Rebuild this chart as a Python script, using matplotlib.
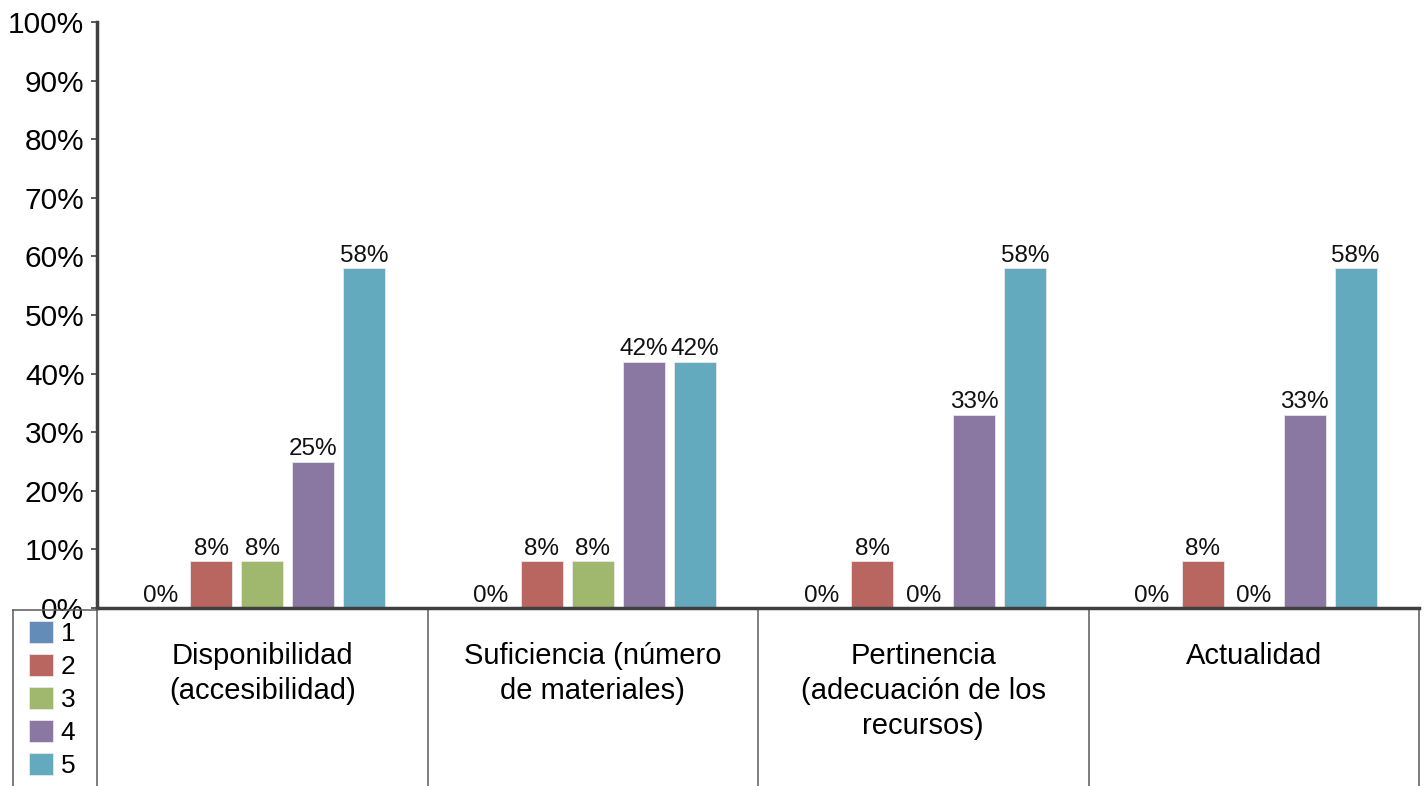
import matplotlib
matplotlib.use("Agg")
import matplotlib.pyplot as plt
from matplotlib.lines import Line2D
from matplotlib.ticker import PercentFormatter
import numpy as np

plt.rcParams['font.family'] = ['Liberation Sans', 'DejaVu Sans']

categories = ["Disponibilidad\n(accesibilidad)",
              "Suficiencia (número\nde materiales)",
              "Pertinencia\n(adecuación de los\nrecursos)",
              "Actualidad"]
series_names = ["1", "2", "3", "4", "5"]
values = {
    "1": [0, 0, 0, 0],
    "2": [8, 8, 8, 8],
    "3": [8, 8, 0, 0],
    "4": [25, 42, 33, 33],
    "5": [58, 42, 58, 58],
}
colors = ["#648CB9", "#B96661", "#A0B76E", "#8A78A3", "#64AABE"]
yticks = list(range(0, 101, 10))

W, H = 1426, 786
fig = plt.figure(figsize=(W / 100, H / 100), dpi=100)
ax_left, ax_right, ax_bottom, ax_top = 97, 1419, 608, 22
ax = fig.add_axes([ax_left / W, (H - ax_bottom) / H,
                   (ax_right - ax_left) / W, (ax_bottom - ax_top) / H])

x = np.arange(len(categories))
step = 0.154
width = 0.127
handles = []
for j, name in enumerate(series_names):
    vals = values[name]
    bars = ax.bar(x + (j - 2) * step, vals, width, color=colors[j],
                  edgecolor="#E8E8E8", linewidth=0.6, label=name, zorder=2)
    handles.append(bars)
    for xi, v in zip(x + (j - 2) * step, vals):
        ax.annotate(f"{v}%", (xi, v), xytext=(0, 1), textcoords="offset points",
                    ha="center", va="bottom", fontsize=17.5, color="#111111")

ax.set_xlim(-0.5, len(categories) - 0.5)
ax.set_ylim(0, 100)
ax.set_yticks(yticks)
ax.yaxis.set_major_formatter(PercentFormatter(decimals=0))
ax.tick_params(axis="y", labelsize=21.5, length=4, width=1.2, color="#404040",
               pad=5, labelcolor="#000000")
ax.set_xticks([])
for s in ["top", "right"]:
    ax.spines[s].set_visible(False)
ax.spines["left"].set_linewidth(2.5)
ax.spines["left"].set_color("#404040")
ax.spines["bottom"].set_linewidth(2.5)
ax.spines["bottom"].set_color("#404040")
ax.spines["bottom"].set_zorder(5)

# table lines under the axis
frac_bottom = -(H - ax_bottom) / (ax_bottom - ax_top)
tcol = "#5A5A5A"
for b in np.arange(-0.5, len(categories), 1.0):
    ax.plot([b, b], [0, frac_bottom], transform=ax.get_xaxis_transform(),
            color=tcol, lw=1.1, clip_on=False)
fig.add_artist(Line2D([13 / W, 13 / W], [0, (H - 610) / H], color=tcol, lw=1.1))
fig.add_artist(Line2D([13 / W, ax_left / W], [(H - 610) / H, (H - 610) / H],
                      color=tcol, lw=1.1))

label_top = -(642 - ax_bottom) / (ax_bottom - ax_top)
for xi, cat in zip(x, categories):
    ax.text(xi, label_top, cat, transform=ax.get_xaxis_transform(),
            ha="center", va="top", fontsize=21, linespacing=1.32,
            multialignment="center")

fig.legend(handles=handles, labels=series_names, loc="upper left",
           bbox_to_anchor=(29 / W, (H - 621) / H), frameon=False,
           fontsize=19, handlelength=0.9, handleheight=0.9,
           handletextpad=0.3, labelspacing=0.3, borderpad=0, borderaxespad=0)

fig.savefig("out.png", dpi=100)
